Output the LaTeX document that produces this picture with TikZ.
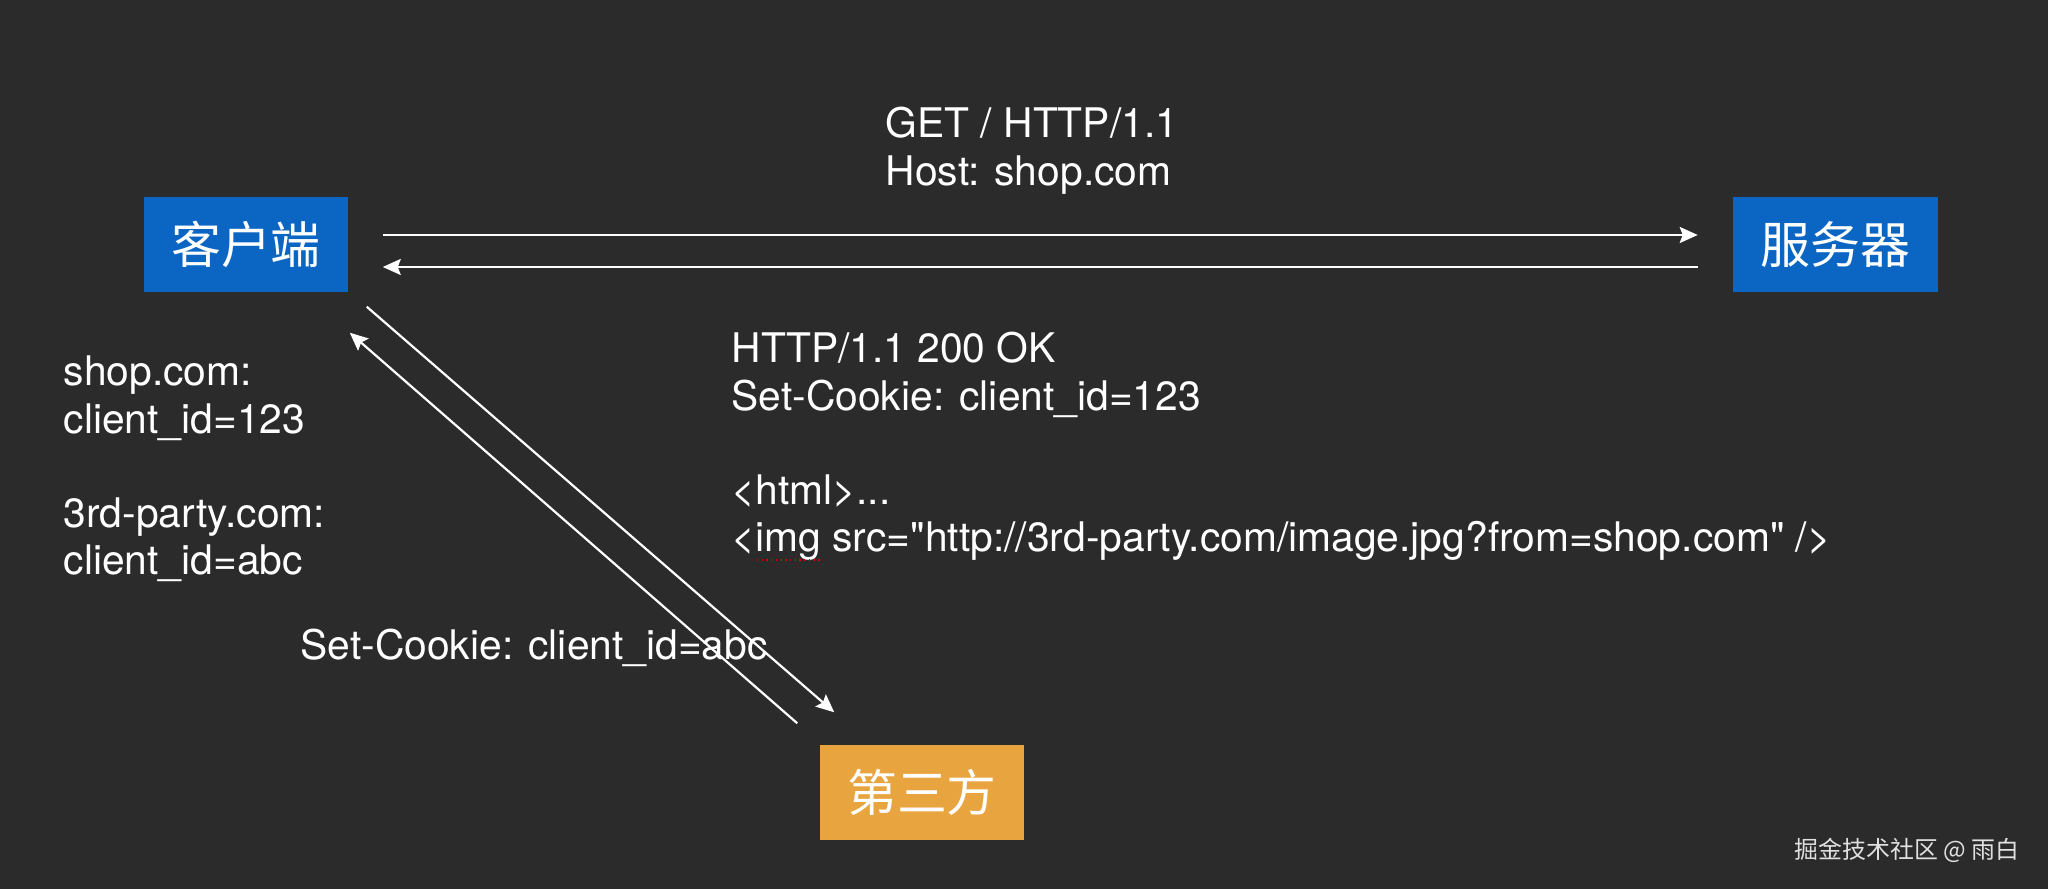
\documentclass[tikz,border=0pt]{standalone}
\usepackage{fontspec}
\setmainfont{TeX Gyre Heros}[Ligatures=TeXOff]
\newfontfamily\cjk{Noto Sans CJK SC}
\usetikzlibrary{arrows.meta}
\definecolor{bgc}{RGB}{43,43,43}
\definecolor{boxblue}{RGB}{11,101,194}
\definecolor{boxorange}{RGB}{232,164,62}
\definecolor{wm}{RGB}{225,225,225}
\newcommand{\txtlines}[1]{\begin{tabular}[t]{@{}l@{}}#1\end{tabular}}
\begin{document}
\begin{tikzpicture}[x=0.01cm,y=-0.01cm,
  box/.style={draw=none,minimum width=2.04cm,minimum height=0.95cm,inner sep=0pt,text=white,font=\cjk\fontsize{14.2pt}{16pt}\selectfont},
  arr/.style={draw=white,line width=0.022cm,-{Stealth[length=0.18cm,width=0.16cm,inset=0.03cm]}},
  txt/.style={text=white,anchor=base west,inner sep=0pt,font=\fontsize{11.6pt}{13.37pt}\selectfont}]
\fill[bgc] (0,0) rectangle (2048,889);
\useasboundingbox (0,0) rectangle (2048,889);
\node[box,fill=boxblue] (client) at (246,244.5) {客户端};
\node[box,fill=boxblue] (server) at (1835.5,244.5) {服务器};
\node[box,fill=boxorange] (third) at (922,792.5) {第三方};
% horizontal arrows
\draw[arr] ([shift={(34,-9.5)}]client.east) -- ([shift={(-35,-9.5)}]server.west);
\draw[arr] ([shift={(-35,22.5)}]server.west) -- ([shift={(34,22.5)}]client.east);
% diagonal arrows
\draw[arr] ([shift={(18,14)}]client.south east) -- ([shift={(15,-32)}]third.north west);
\draw[arr] ([shift={(-22,-21)}]third.north west) -- ([shift={(1,40)}]client.south east);
% texts
\node[txt] (req) at (885,138) {\txtlines{GET / HTTP/1.1\\Host: shop.com}};
\node[txt] (resp) at (731,363) {\txtlines{HTTP/1.1 200 OK\\Set-Cookie: client\_id=123\\ \\<html>...\\<img src="http://3rd-party.com/image.jpg?from=shop.com" />}};
\node[txt] (store) at (63,386) {\txtlines{shop.com:\\client\_id=123\\ \\3rd-party.com:\\client\_id=abc}};
\node[txt] (set3) at (300,660) {Set-Cookie: client\_id=abc};
\draw[red!80!black,densely dotted,line width=0.012cm] (757,560) -- (822,560);
\node[anchor=east,inner sep=0pt,text=wm,font=\cjk\fontsize{6.8pt}{8pt}\selectfont] (mark) at (2020,850) {掘金技术社区 @ 雨白};
\end{tikzpicture}
\end{document}
